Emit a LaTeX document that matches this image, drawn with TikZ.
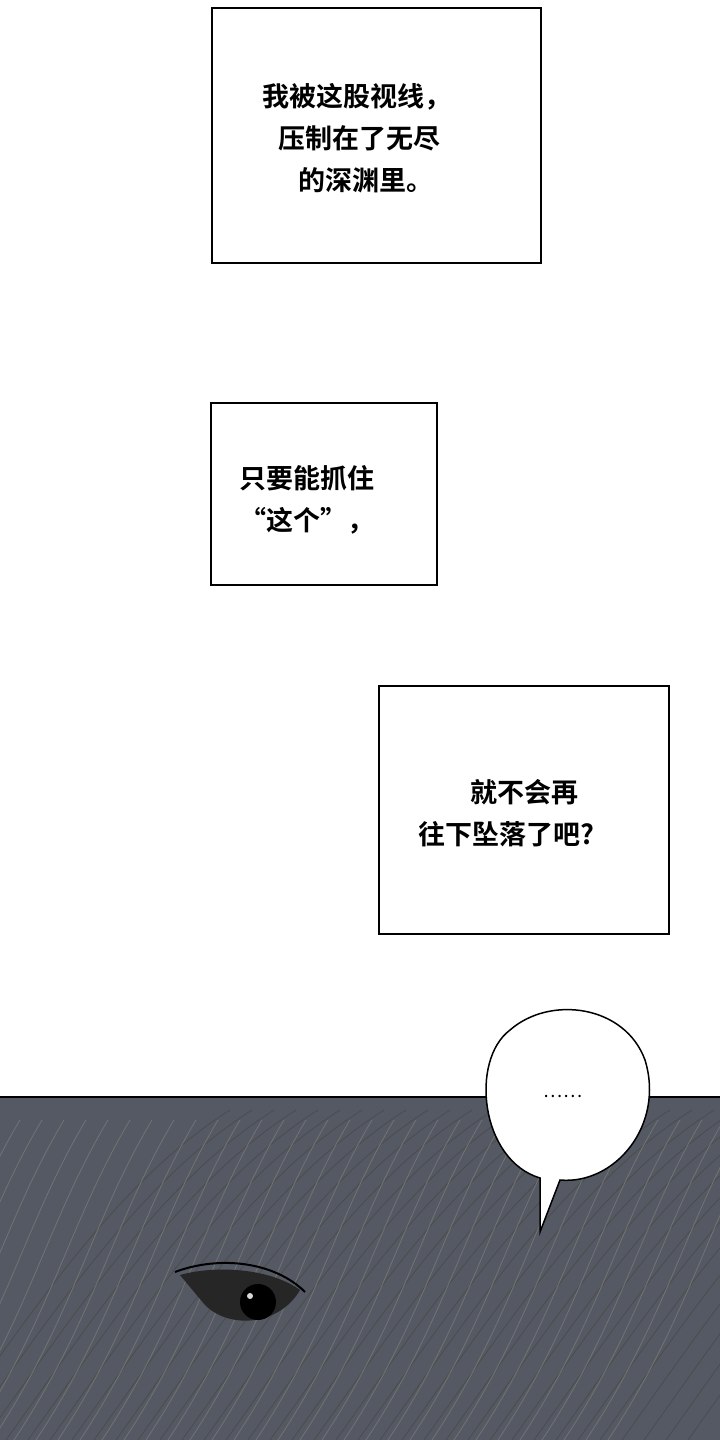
\documentclass[tikz,border=0pt]{standalone}
\usepackage{fontspec}
\newfontfamily\cjk{Noto Sans CJK SC}[BoldFont={Noto Sans CJK SC Bold}]
\definecolor{nightgray}{HTML}{545963}
\tikzset{
  panelbox/.style={draw=black,line width=2.2pt,fill=white},
  caption/.style={font=\cjk\bfseries\fontsize{27}{42}\selectfont,align=left,inner sep=0pt},
  hair/.style={draw=black!70,line width=0.8pt},
}
\begin{document}
\begin{tikzpicture}[x=1pt,y=-1pt]
\useasboundingbox (0,0) rectangle (720,1440);
\fill[white] (0,0) rectangle (720,1440);

%caption boxes
\draw[panelbox] (212,8) rectangle (541,263);
\node[caption,anchor=north west] (capa) at (262,83) {我被这股视线，\\\hspace*{16pt}压制在了无尽\\\hspace*{36pt}的深渊里。};
\draw[panelbox] (211,403) rectangle (437,585);
\node[caption,anchor=north west] (capb) at (239,465) {只要能抓住\\“这个”，};
\draw[panelbox] (379,686) rectangle (669,934);
\node[caption,anchor=north west] (capc) at (418,779) {\hspace*{52pt}就不会再\\往下坠落了吧?};

%dark panel
\fill[nightgray] (0,1097) rectangle (720,1440);
\draw[line width=2pt] (0,1097) -- (720,1097);
\foreach \i in {0,...,34}{
  \draw[hair] (\i*22-60,1440) .. controls (\i*22+40,1300) and (\i*22+120,1180) .. (\i*22+230,1110);
  \draw[hair,black!55] (\i*22+20,1120) .. controls (\i*22-40,1220) and (\i*22-60,1320) .. (\i*22-140,1440);
}
%eye
\fill[black!85] (180,1275) .. controls (215,1265) and (270,1268) .. (300,1290) .. controls (280,1325) and (230,1330) .. (205,1305) -- cycle;
\fill[black] (258,1302) circle (18);
\fill[white!70!gray] (250,1296) circle (3);
\draw[line width=2pt] (175,1272) .. controls (220,1255) and (275,1262) .. (305,1292);

%speech bubble
\draw[fill=white,line width=1.5pt] (540,1178) .. controls (480,1160) and (470,1060) .. (510,1030)
  .. controls (550,995) and (625,1005) .. (645,1060) .. controls (665,1125) and (615,1185) .. (560,1180)
  -- (540,1232) -- cycle;
\node[font=\cjk\fontsize{18}{18}\selectfont] (dots) at (563,1096) {……};
\end{tikzpicture}
\end{document}
